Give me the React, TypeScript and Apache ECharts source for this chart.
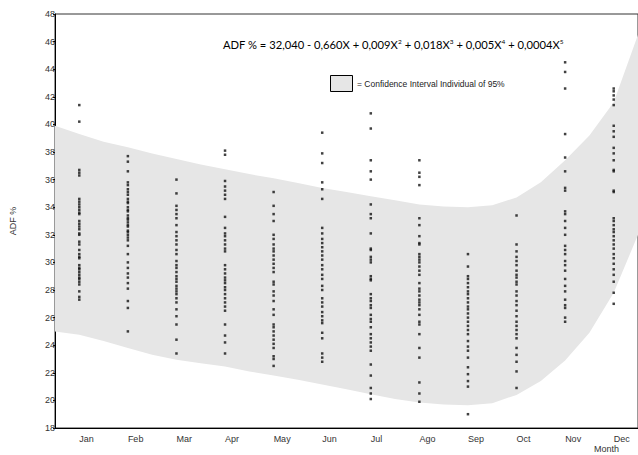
import React, { useEffect, useRef } from "react";
import * as echarts from "echarts";

const months = ["Jan", "Feb", "Mar", "Apr", "May", "Jun", "Jul", "Ago", "Sep", "Oct", "Nov", "Dec"];

const jan = [41.4, 40.2, 36.7, 36.5, 36.3, 34.6, 34.4, 34.2, 34.0, 33.8, 33.6, 33.5, 33.0, 32.8, 32.6, 32.4, 32.1, 32.0, 31.5, 31.3, 30.9, 30.6, 30.4, 30.3, 29.8, 29.6, 29.5, 29.3, 29.1, 28.9, 28.8, 28.6, 28.4, 27.9, 27.5, 27.3];
const feb = [37.7, 37.3, 36.6, 35.8, 35.6, 35.3, 35.1, 34.9, 34.6, 34.4, 34.3, 34.0, 33.8, 33.7, 33.4, 33.2, 33.1, 32.9, 32.7, 32.6, 32.3, 32.2, 32.0, 31.8, 31.6, 31.2, 30.6, 30.0, 29.6, 29.2, 28.9, 28.5, 28.1, 27.2, 26.7, 25.0];
const mar = [36.0, 35.0, 34.1, 33.8, 33.5, 33.2, 32.7, 32.2, 31.9, 31.6, 31.3, 30.9, 30.6, 30.1, 29.8, 29.6, 29.3, 29.0, 28.8, 28.6, 28.3, 28.1, 27.9, 27.7, 27.4, 27.1, 26.6, 26.1, 25.5, 24.4, 23.4];
const apr = [38.1, 37.8, 35.9, 35.5, 35.2, 34.9, 34.6, 33.3, 32.5, 32.1, 31.9, 31.6, 31.3, 31.0, 30.8, 29.8, 29.5, 29.2, 28.9, 28.7, 28.5, 28.2, 28.0, 27.7, 27.4, 27.1, 26.8, 26.5, 25.5, 24.7, 24.2, 23.4];
const may = [35.1, 34.1, 33.5, 33.0, 32.0, 31.7, 31.3, 31.0, 30.8, 30.5, 30.2, 29.9, 29.6, 29.3, 28.6, 28.4, 27.9, 27.6, 27.2, 26.6, 26.2, 25.5, 25.3, 25.0, 24.7, 24.4, 24.1, 23.8, 23.2, 23.0, 22.5];
const jun = [39.4, 37.9, 37.2, 35.8, 35.3, 34.6, 32.5, 32.1, 31.7, 31.4, 31.1, 30.8, 30.5, 30.2, 29.8, 29.5, 29.1, 28.8, 28.3, 28.0, 27.4, 27.1, 26.8, 26.4, 26.1, 25.8, 25.6, 24.9, 24.5, 23.4, 23.1, 22.8];
const jul = [40.8, 39.7, 37.4, 36.6, 36.0, 34.2, 33.5, 33.2, 32.1, 31.0, 30.9, 30.4, 30.2, 30.0, 29.0, 28.8, 28.7, 27.7, 27.4, 27.2, 26.9, 26.7, 26.2, 25.9, 25.7, 25.3, 24.8, 24.5, 24.2, 23.9, 23.6, 22.6, 21.8, 20.9, 20.5, 20.1];
const ago = [37.4, 36.5, 36.2, 35.6, 33.2, 32.7, 31.9, 31.4, 31.3, 30.6, 30.4, 30.2, 30.0, 29.7, 29.4, 29.1, 28.5, 28.1, 27.9, 27.6, 27.3, 27.1, 26.9, 26.6, 26.2, 25.7, 25.5, 24.8, 23.8, 23.1, 21.3, 20.5, 19.9];
const sep = [30.6, 29.7, 29.0, 28.8, 28.5, 28.2, 27.9, 27.7, 27.4, 27.1, 26.8, 26.6, 26.3, 26.0, 25.7, 25.4, 25.1, 24.8, 24.3, 23.9, 23.6, 23.1, 22.4, 21.9, 21.4, 21.0, 19.0];
const oct = [33.4, 31.3, 30.8, 30.4, 30.1, 29.8, 29.4, 29.1, 28.9, 28.6, 28.4, 27.9, 27.6, 27.2, 26.9, 26.5, 26.1, 25.7, 25.4, 25.1, 24.8, 24.5, 23.8, 23.3, 22.8, 22.1, 20.9];
const nov = [44.5, 43.8, 42.6, 39.3, 37.6, 36.6, 35.4, 35.2, 33.7, 33.5, 33.0, 32.5, 32.0, 31.2, 30.9, 30.6, 30.1, 29.8, 29.4, 28.8, 28.3, 27.9, 27.3, 26.9, 26.7, 26.0, 25.7];
const dec = [42.6, 42.4, 42.1, 41.8, 41.4, 39.9, 39.5, 39.1, 38.3, 37.9, 37.4, 36.7, 36.6, 35.2, 35.1, 33.2, 33.0, 32.7, 32.4, 32.2, 31.9, 31.6, 31.3, 31.0, 30.6, 30.3, 29.9, 29.5, 29.1, 28.6, 27.8, 27.0];

const monthValues = [jan, feb, mar, apr, may, jun, jul, ago, sep, oct, nov, dec];

const bandX = [0.5, 1, 1.5, 2, 2.5, 3, 3.5, 4, 4.5, 5, 5.5, 6, 6.5, 7, 7.5, 8, 8.5, 9, 9.5, 10, 10.5, 11, 11.5, 12, 12.5];
const bandUpper = [39.9, 39.3, 38.75, 38.35, 37.9, 37.5, 37.1, 36.75, 36.4, 36.1, 35.75, 35.4, 35.1, 34.8, 34.5, 34.2, 34.05, 34.0, 34.15, 34.7, 35.8, 37.4, 39.2, 41.6, 46.5];
const bandLower = [25.0, 24.75, 24.3, 23.8, 23.3, 22.95, 22.7, 22.45, 22.1, 21.8, 21.5, 21.15, 20.8, 20.45, 20.1, 19.85, 19.7, 19.65, 19.8, 20.4, 21.4, 22.9, 24.9, 27.8, 32.0];

const yTicks = { min: 18, max: 48, interval: 2 };

export default function App() {
  const ref = useRef<HTMLDivElement>(null);
  useEffect(() => {
    if (!ref.current) return;
    const chart = echarts.init(ref.current, null, { renderer: "svg" });
    const scatterData: number[][] = [];
    monthValues.forEach((vals, i) => vals.forEach((v) => scatterData.push([i, v])));
    const bandData = bandX.map((x, i) => [x, bandLower[i], bandUpper[i]]);
    chart.setOption({
      animation: false,
      grid: { left: 55, top: 14, width: 588, height: 414, show: true, borderColor: "#333", borderWidth: 1, backgroundColor: "transparent" },
      xAxis: [
        {
          type: "category",
          data: months,
          boundaryGap: true,
          axisLine: { lineStyle: { color: "#000", width: 1 } },
          axisTick: { alignWithLabel: true, length: 4, lineStyle: { color: "#000" } },
          axisLabel: { fontFamily: "Liberation Sans, Arial", fontSize: 9, color: "#333", align: "left", margin: 6 },
          splitLine: { show: false },
        },
        { type: "value", min: 0.5, max: 12.5, show: false, splitLine: { show: false } },
      ],
      yAxis: {
        type: "value",
        min: yTicks.min,
        max: yTicks.max,
        interval: yTicks.interval,
        name: "ADF %",
        nameLocation: "middle",
        nameGap: 38,
        nameTextStyle: { fontFamily: "Liberation Sans, Arial", fontSize: 9, color: "#333" },
        axisLine: { show: true, lineStyle: { color: "#000", width: 1 } },
        axisTick: { show: true, length: 2, lineStyle: { color: "#000" } },
        axisLabel: { fontFamily: "Liberation Sans, Arial", fontSize: 9, color: "#333", margin: 0 },
        splitLine: { show: false },
      },
      series: [
        {
          type: "custom",
          xAxisIndex: 1,
          yAxisIndex: 0,
          data: bandData,
          silent: true,
          clip: true,
          z: 1,
          renderItem: (params: any, api: any) => {
            if (params.dataIndex !== 0) return null;
            const upper: number[][] = [];
            const lower: number[][] = [];
            for (let i = 0; i < bandX.length; i++) {
              upper.push(api.coord([bandX[i], bandUpper[i]]));
              lower.push(api.coord([bandX[i], bandLower[i]]));
            }
            const pts = upper.concat(lower.reverse());
            return {
              type: "polygon",
              shape: { points: pts },
              style: { fill: "#e6e6e6", stroke: "none" },
            };
          },
        },
        {
          type: "scatter",
          xAxisIndex: 0,
          data: scatterData,
          symbol: "rect",
          symbolSize: 2.5,
          z: 3,
          itemStyle: { color: "#111" },
        },
      ],
      graphic: [
        {
          type: "text",
          left: 223,
          top: 38,
          style: {
            text: "ADF % = 32,040 - 0,660X + 0,009X{s|2} + 0,018X{s|3} + 0,005X{s|4} + 0,0004X{s|5}",
            fontFamily: "Lato, Liberation Sans",
            fontSize: 11.2,
            fill: "#000",
            rich: { s: { fontSize: 6.5, verticalAlign: "top", padding: [0, 0, 6, 0], fontFamily: "Lato, Liberation Sans" } },
          },
        },
        {
          type: "rect",
          shape: { x: 330.5, y: 75.5, width: 22, height: 16 },
          style: { fill: "#e6e6e6", stroke: "#000", lineWidth: 1 },
        },
        {
          type: "text",
          left: 357,
          top: 79,
          style: { text: "= Confidence Interval Individual of 95%", fontFamily: "Liberation Sans, Arial", fontSize: 8.5, fill: "#222" },
        },
        {
          type: "text",
          left: 594,
          top: 444,
          style: { text: "Month", fontFamily: "Liberation Sans, Arial", fontSize: 9, fill: "#333" },
        },
      ],
    });
    return () => chart.dispose();
  }, []);
  return <div ref={ref} style={{ position: "absolute", left: 0, top: 0, width: 638, height: 455 }} />;
}
